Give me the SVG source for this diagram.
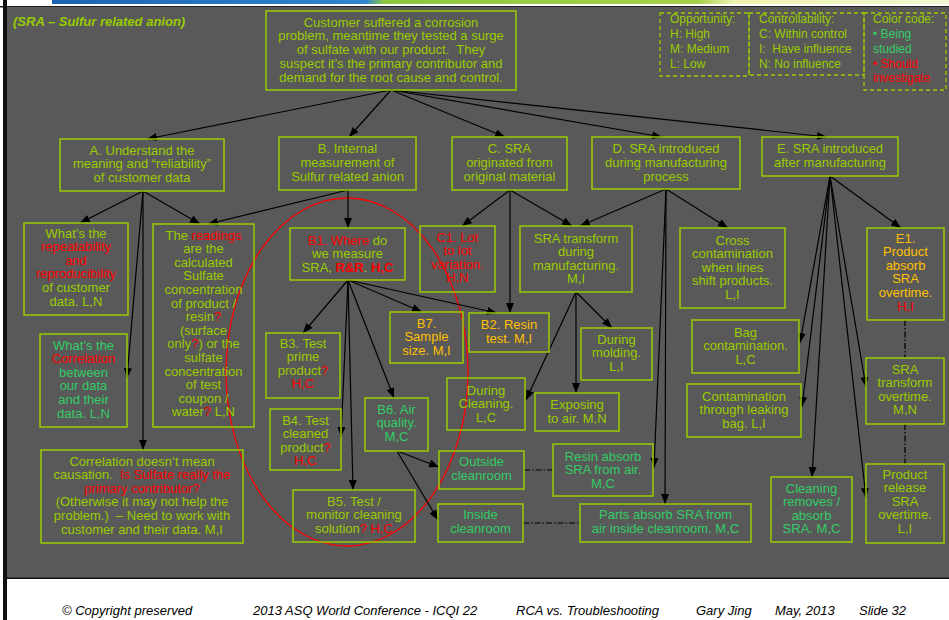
<svg xmlns="http://www.w3.org/2000/svg" width="949" height="620" viewBox="0 0 949 620">
  <style>
    .bx { fill: none; stroke: #99cc00; stroke-width: 1.5; }
    .lg { fill: none; stroke: #99cc00; stroke-width: 1.3; stroke-dasharray: 4 3; }
    .t { font-family: "Liberation Sans", Arial, sans-serif; font-size: 13px; fill: #99cc00; text-anchor: middle; }
    .s { font-family: "Liberation Sans", Arial, sans-serif; font-size: 12px; fill: #99cc00; }
    .r { fill: #ff0000; }
    .g { fill: #33cc66; }
    .o { fill: #ffc000; }
    .b { font-weight: bold; }
    .ft { font-family: "Liberation Sans", Arial, sans-serif; font-size: 13px; font-style: italic; fill: #000; }
    #connectors line { stroke: #000; stroke-width: 1.2; }
    #connectors .a { marker-end: url(#ah); }
    #connectors .dd { stroke-dasharray: 6 2 1.5 2; }
  </style>
  <defs>
    <marker id="ah" markerUnits="userSpaceOnUse" markerWidth="10" markerHeight="8" refX="10" refY="4" orient="auto">
      <path d="M0,0 L10,4 L0,8 z" fill="#000"/>
    </marker>
    <linearGradient id="topbar" x1="0" y1="0" x2="1" y2="0">
      <stop offset="0" stop-color="#1c63b0"/>
      <stop offset="0.35" stop-color="#2f86d0"/>
      <stop offset="0.37" stop-color="#8cc63f"/>
      <stop offset="0.72" stop-color="#a6d24a"/>
      <stop offset="0.76" stop-color="#eef3b0"/>
      <stop offset="1" stop-color="#f4f6d0"/>
    </linearGradient>
  </defs>

  <!-- page frame -->
  <rect x="0" y="0" width="949" height="620" fill="#ffffff"/>
  <rect x="52" y="0" width="897" height="4" fill="url(#topbar)"/>
  <rect x="0" y="6" width="949" height="1.5" fill="#222"/>
  <rect x="6" y="7" width="943" height="571" fill="#595959"/>
  <rect x="3" y="0" width="4" height="620" fill="#111"/>
  <rect x="6" y="577.5" width="943" height="1.5" fill="#111"/>

  <text x="13" y="26" class="s b" style="font-size:13px;font-style:italic">(SRA – Sulfur related anion)</text>

  <!-- highlight ring around the measurement branch -->
  <ellipse cx="347" cy="372" rx="121" ry="174" fill="none" stroke="#ff0000" stroke-width="1.3"/>

  <!-- connectors -->
  <g id="connectors">
    <line class="a" x1="391" y1="90" x2="147" y2="139"/>
    <line class="a" x1="391" y1="90" x2="349" y2="137"/>
    <line class="a" x1="391" y1="90" x2="505" y2="137"/>
    <line class="a" x1="391" y1="90" x2="662" y2="137"/>
    <line class="a" x1="391" y1="90" x2="827" y2="137"/>

    <line class="a" x1="143" y1="191" x2="80" y2="223"/>
    <line class="a" x1="143" y1="191" x2="200" y2="224"/>
    <line class="a" x1="143" y1="191" x2="127" y2="378"/>
    <line class="a" x1="143" y1="191" x2="143" y2="450"/>

    <line class="a" x1="348" y1="190" x2="348" y2="228"/>
    <line class="a" x1="348" y1="190" x2="208" y2="224"/>

    <line class="a" x1="348" y1="280" x2="303" y2="333"/>
    <line class="a" x1="348" y1="280" x2="341" y2="437"/>
    <line class="a" x1="348" y1="280" x2="353" y2="490"/>
    <line class="a" x1="348" y1="280" x2="394" y2="398"/>
    <line class="a" x1="348" y1="280" x2="422" y2="312"/>
    <line class="a" x1="348" y1="280" x2="497" y2="313"/>

    <line class="a" x1="397" y1="451" x2="439" y2="467"/>
    <line class="a" x1="397" y1="451" x2="438" y2="520"/>

    <line class="a" x1="510" y1="190" x2="462" y2="226"/>
    <line class="a" x1="510" y1="190" x2="572" y2="226"/>
    <line class="a" x1="510" y1="190" x2="510" y2="313"/>

    <line class="a" x1="666" y1="189" x2="580" y2="226"/>
    <line class="a" x1="666" y1="189" x2="728" y2="228"/>
    <line class="a" x1="666" y1="189" x2="654" y2="468"/>
    <line class="a" x1="666" y1="189" x2="665" y2="504"/>

    <line class="a" x1="576" y1="292" x2="612" y2="328"/>
    <line class="a" x1="576" y1="292" x2="576" y2="393"/>
    <line class="a" x1="576" y1="292" x2="526" y2="400"/>

    <line class="a" x1="830" y1="176" x2="901" y2="228"/>
    <line class="a" x1="830" y1="176" x2="800" y2="343"/>
    <line class="a" x1="830" y1="176" x2="802" y2="407"/>
    <line class="a" x1="830" y1="176" x2="812" y2="477"/>
    <line class="a" x1="830" y1="176" x2="866" y2="387"/>
    <line class="a" x1="830" y1="176" x2="866" y2="498"/>

    <line class="dd" x1="905" y1="320" x2="905" y2="358"/>
    <line class="dd" x1="905" y1="424" x2="905" y2="464"/>
    <line class="dd" x1="524" y1="470" x2="553" y2="470"/>
    <line class="dd" x1="523" y1="523" x2="580" y2="523"/>
  </g>

  <!-- legend -->
  <g id="legend">
    <rect class="lg" x="660" y="13" width="89" height="63"/>
    <rect class="lg" x="749" y="13" width="115" height="62"/>
    <rect class="lg" x="864" y="13" width="82" height="77"/>
    <text class="s" x="670" y="23">Opportunity:</text>
    <text class="s" x="670" y="38">H: High</text>
    <text class="s" x="670" y="53">M: Medium</text>
    <text class="s" x="670" y="67.5">L: Low</text>
    <text class="s" x="759" y="23">Controllability:</text>
    <text class="s" x="759" y="38">C: Within control</text>
    <text class="s" x="759" y="53" xml:space="preserve">I:  Have influence</text>
    <text class="s" x="759" y="67.5">N: No influence</text>
    <text class="s" x="873" y="23">Color code:</text>
    <text class="s g" x="873" y="38">• Being</text>
    <text class="s g" x="873" y="53">studied</text>
    <text class="s r" x="873" y="67.5">• Should</text>
    <text class="s r" x="873" y="82">investigate</text>
  </g>

  <!-- nodes -->
  <g id="root">
    <rect class="bx" x="266" y="11" width="250" height="79"/>
    <text class="t" x="391" y="26.5" xml:space="preserve">Customer suffered a corrosion</text>
    <text class="t" x="391" y="40.2" xml:space="preserve">problem, meantime they tested a surge</text>
    <text class="t" x="391" y="54" xml:space="preserve">of sulfate with our product.  They</text>
    <text class="t" x="391" y="67.7" xml:space="preserve">suspect it’s the primary contributor and</text>
    <text class="t" x="391" y="81.5" xml:space="preserve">demand for the root cause and control.</text>
  </g>

  <g id="nodeA">
    <rect class="bx" x="60" y="139" width="164" height="52"/>
    <text class="t" x="142" y="154.5">A. Understand the</text>
    <text class="t" x="142" y="168">meaning and “reliability”</text>
    <text class="t" x="142" y="181.5">of customer data</text>
  </g>

  <g id="nodeB">
    <rect class="bx" x="279" y="137" width="137" height="53"/>
    <text class="t" x="347.5" y="152.5">B. Internal</text>
    <text class="t" x="347.5" y="166.5">measurement of</text>
    <text class="t" x="347.5" y="180.5">Sulfur related anion</text>
  </g>

  <g id="nodeC">
    <rect class="bx" x="452" y="137" width="115" height="53"/>
    <text class="t" x="509.5" y="152.5">C. SRA</text>
    <text class="t" x="509.5" y="167">originated from</text>
    <text class="t" x="509.5" y="181">original material</text>
  </g>

  <g id="nodeD">
    <rect class="bx" x="592" y="137" width="148" height="52"/>
    <text class="t" x="666" y="152.5">D. SRA introduced</text>
    <text class="t" x="666" y="166.5">during manufacturing</text>
    <text class="t" x="666" y="180.5">process</text>
  </g>

  <g id="nodeE">
    <rect class="bx" x="762" y="137" width="136" height="39"/>
    <text class="t" x="830" y="152.5">E. SRA introduced</text>
    <text class="t" x="830" y="166.5">after manufacturing</text>
  </g>

  <g id="nodeA1">
    <rect class="bx" x="24" y="223" width="104" height="92"/>
    <text class="t" x="76" y="237.5">What’s the</text>
    <text class="t r" x="76" y="251.1">repeatability</text>
    <text class="t r" x="76" y="264.7">and</text>
    <text class="t r" x="76" y="278.3">reproducibility</text>
    <text class="t" x="76" y="291.9">of customer</text>
    <text class="t" x="76" y="305.5">data. L,N</text>
  </g>

  <g id="nodeA2">
    <rect class="bx" x="153" y="224" width="101" height="203"/>
    <text class="t" x="203.5" y="239.5">The <tspan class="r">readings</tspan></text>
    <text class="t" x="203.5" y="253.1">are the</text>
    <text class="t" x="203.5" y="266.7">calculated</text>
    <text class="t" x="203.5" y="280.3">Sulfate</text>
    <text class="t" x="203.5" y="293.9">concentration</text>
    <text class="t" x="203.5" y="307.5">of product /</text>
    <text class="t" x="203.5" y="321.1">resin<tspan class="r">?</tspan></text>
    <text class="t" x="203.5" y="334.7">(surface</text>
    <text class="t" x="203.5" y="348.3">only<tspan class="r">?</tspan>) or the</text>
    <text class="t" x="203.5" y="361.9">sulfate</text>
    <text class="t" x="203.5" y="375.5">concentration</text>
    <text class="t" x="203.5" y="389.1">of test</text>
    <text class="t" x="203.5" y="402.7">coupon /</text>
    <text class="t" x="203.5" y="416.3">water<tspan class="r">?</tspan> L,N</text>
  </g>

  <g id="nodeA3">
    <rect class="bx" x="40" y="334" width="87" height="93"/>
    <text class="t g" x="83.5" y="349.5">What’s the</text>
    <text class="t r" x="83.5" y="363.1">Correlation</text>
    <text class="t g" x="83.5" y="376.7">between</text>
    <text class="t g" x="83.5" y="390.3">our data</text>
    <text class="t g" x="83.5" y="403.9">and their</text>
    <text class="t g" x="83.5" y="417.5">data. L,N</text>
  </g>

  <g id="nodeA4">
    <rect class="bx" x="41" y="450" width="202" height="93"/>
    <text class="t" x="142" y="465.5">Correlation doesn’t mean</text>
    <text class="t" x="142" y="479.1" xml:space="preserve">causation.  <tspan class="r">Is Sulfate really the</tspan></text>
    <text class="t r" x="142" y="492.7">primary contributor?</text>
    <text class="t" x="142" y="506.3">(Otherwise it may not help the</text>
    <text class="t" x="142" y="519.9" xml:space="preserve">problem.)  – Need to work with</text>
    <text class="t" x="142" y="533.5">customer and their data. M,I</text>
  </g>

  <g id="nodeB1">
    <rect class="bx" x="290" y="228" width="115" height="52"/>
    <text class="t" x="347.5" y="244.5"><tspan class="r">B1. Where</tspan> do</text>
    <text class="t" x="347.5" y="258">we measure</text>
    <text class="t" x="347.5" y="271.5">SRA, <tspan class="r b">R&amp;R</tspan>. <tspan class="r b">H,C</tspan></text>
  </g>

  <g id="nodeB7">
    <rect class="bx" x="390" y="312" width="73" height="51"/>
    <text class="t o" x="426.5" y="327.5">B7.</text>
    <text class="t o" x="426.5" y="341">Sample</text>
    <text class="t o" x="426.5" y="354.5">size. M,I</text>
  </g>

  <g id="nodeB2">
    <rect class="bx" x="469" y="313" width="80" height="39"/>
    <text class="t o" x="509" y="329">B2. Resin</text>
    <text class="t o" x="509" y="342.6">test. M,I</text>
  </g>

  <g id="nodeB3">
    <rect class="bx" x="266" y="333" width="74" height="65"/>
    <text class="t" x="303" y="347.5">B3. Test</text>
    <text class="t" x="303" y="361.1">prime</text>
    <text class="t" x="303" y="374.7">product<tspan class="r">?</tspan></text>
    <text class="t r" x="303" y="388.3">H,C</text>
  </g>

  <g id="nodeB4">
    <rect class="bx" x="270" y="409" width="71" height="61"/>
    <text class="t" x="305.5" y="424.5">B4. Test</text>
    <text class="t" x="305.5" y="438.1">cleaned</text>
    <text class="t" x="305.5" y="451.7">product<tspan class="r">?</tspan></text>
    <text class="t r" x="305.5" y="465.3">H,C</text>
  </g>

  <g id="nodeB6">
    <rect class="bx" x="365" y="398" width="63" height="53"/>
    <text class="t g" x="396.5" y="413.5">B6. Air</text>
    <text class="t g" x="396.5" y="427.1">quality.</text>
    <text class="t g" x="396.5" y="440.7">M,C</text>
  </g>

  <g id="nodeB5">
    <rect class="bx" x="293" y="490" width="122" height="52"/>
    <text class="t" x="354" y="505.5">B5. Test /</text>
    <text class="t" x="354" y="519">monitor cleaning</text>
    <text class="t" x="354" y="532.5">solution<tspan class="r">? H,C</tspan></text>
  </g>

  <g id="nodeOutside">
    <rect class="bx" x="439" y="451" width="85" height="38"/>
    <text class="t g" x="481.5" y="466">Outside</text>
    <text class="t g" x="481.5" y="479.6">cleanroom</text>
  </g>

  <g id="nodeInside">
    <rect class="bx" x="438" y="504" width="85" height="38"/>
    <text class="t g" x="480.5" y="519.2">Inside</text>
    <text class="t g" x="480.5" y="532.8">cleanroom</text>
  </g>

  <g id="nodeC1">
    <rect class="bx" x="420" y="226" width="75" height="66"/>
    <text class="t r" x="457.5" y="241.5">C1. Lot</text>
    <text class="t r" x="457.5" y="255.1">to lot</text>
    <text class="t r" x="457.5" y="268.7">variation.</text>
    <text class="t r" x="457.5" y="282.3">H,N</text>
  </g>

  <g id="nodeTransformMfg">
    <rect class="bx" x="520" y="226" width="112" height="66"/>
    <text class="t" x="576" y="242.5">SRA transform</text>
    <text class="t" x="576" y="256.1">during</text>
    <text class="t" x="576" y="269.7">manufacturing.</text>
    <text class="t" x="576" y="283.3">M,I</text>
  </g>

  <g id="nodeCross">
    <rect class="bx" x="680" y="228" width="105" height="80"/>
    <text class="t" x="732.5" y="244.5">Cross</text>
    <text class="t" x="732.5" y="258.1">contamination</text>
    <text class="t" x="732.5" y="271.7">when lines</text>
    <text class="t" x="732.5" y="285.3">shift products.</text>
    <text class="t" x="732.5" y="298.9">L,I</text>
  </g>

  <g id="nodeMolding">
    <rect class="bx" x="581" y="328" width="71" height="52"/>
    <text class="t" x="616.5" y="343.5">During</text>
    <text class="t" x="616.5" y="357.1">molding.</text>
    <text class="t" x="616.5" y="370.7">L,I</text>
  </g>

  <g id="nodeCleaning">
    <rect class="bx" x="447" y="378" width="78" height="52"/>
    <text class="t" x="486" y="394.5">During</text>
    <text class="t" x="486" y="408.1">Cleaning.</text>
    <text class="t" x="486" y="421.7">L,C</text>
  </g>

  <g id="nodeExposing">
    <rect class="bx" x="535" y="393" width="84" height="38"/>
    <text class="t" x="577" y="409">Exposing</text>
    <text class="t" x="577" y="422.6">to air. M,N</text>
  </g>

  <g id="nodeResinAbsorb">
    <rect class="bx" x="553" y="444" width="100" height="52"/>
    <text class="t g" x="603" y="460.5">Resin absorb</text>
    <text class="t g" x="603" y="474.1">SRA from air.</text>
    <text class="t g" x="603" y="487.7">M,C</text>
  </g>

  <g id="nodePartsAbsorb">
    <rect class="bx" x="580" y="504" width="171" height="38"/>
    <text class="t g" x="665.5" y="519.2">Parts absorb SRA from</text>
    <text class="t g" x="665.5" y="532.8">air inside cleanroom. M,C</text>
  </g>

  <g id="nodeE1">
    <rect class="bx" x="867" y="228" width="77" height="92"/>
    <text class="t o" x="905.5" y="242.5">E1.</text>
    <text class="t o" x="905.5" y="256.1">Product</text>
    <text class="t o" x="905.5" y="269.7">absorb</text>
    <text class="t o" x="905.5" y="283.3">SRA</text>
    <text class="t o" x="905.5" y="296.9">overtime.</text>
    <text class="t r" x="905.5" y="310.5">H,I</text>
  </g>

  <g id="nodeBag">
    <rect class="bx" x="692" y="320" width="107" height="53"/>
    <text class="t" x="745.5" y="336.5">Bag</text>
    <text class="t" x="745.5" y="350.1">contamination.</text>
    <text class="t" x="745.5" y="363.7">L,C</text>
  </g>

  <g id="nodeLeaking">
    <rect class="bx" x="687" y="384" width="114" height="53"/>
    <text class="t" x="744" y="400.5">Contamination</text>
    <text class="t" x="744" y="414.1">through leaking</text>
    <text class="t" x="744" y="427.7">bag. L,I</text>
  </g>

  <g id="nodeTransformOvertime">
    <rect class="bx" x="866" y="358" width="78" height="66"/>
    <text class="t" x="905" y="373.5">SRA</text>
    <text class="t" x="905" y="387.1">transform</text>
    <text class="t" x="905" y="400.7">overtime.</text>
    <text class="t" x="905" y="414.3">M,N</text>
  </g>

  <g id="nodeCleaningRemoves">
    <rect class="bx" x="771" y="477" width="81" height="65"/>
    <text class="t g" x="811.5" y="492.5">Cleaning</text>
    <text class="t g" x="811.5" y="506.1">removes /</text>
    <text class="t g" x="811.5" y="519.7">absorb</text>
    <text class="t g" x="811.5" y="533.3">SRA. M,C</text>
  </g>

  <g id="nodeRelease">
    <rect class="bx" x="866" y="464" width="78" height="79"/>
    <text class="t" x="905" y="478.5">Product</text>
    <text class="t" x="905" y="492.1">release</text>
    <text class="t" x="905" y="505.7">SRA</text>
    <text class="t" x="905" y="519.3">overtime.</text>
    <text class="t" x="905" y="532.9">L,I</text>
  </g>

  <!-- footer -->
  <g id="footer">
    <text class="ft" x="62" y="615">© Copyright preserved</text>
    <text class="ft" x="253" y="615">2013 ASQ World Conference - ICQI 22</text>
    <text class="ft" x="516" y="615">RCA vs. Troubleshooting</text>
    <text class="ft" x="696" y="615">Gary Jing</text>
    <text class="ft" x="775" y="615">May, 2013</text>
    <text class="ft" x="859" y="615">Slide 32</text>
  </g>
</svg>
